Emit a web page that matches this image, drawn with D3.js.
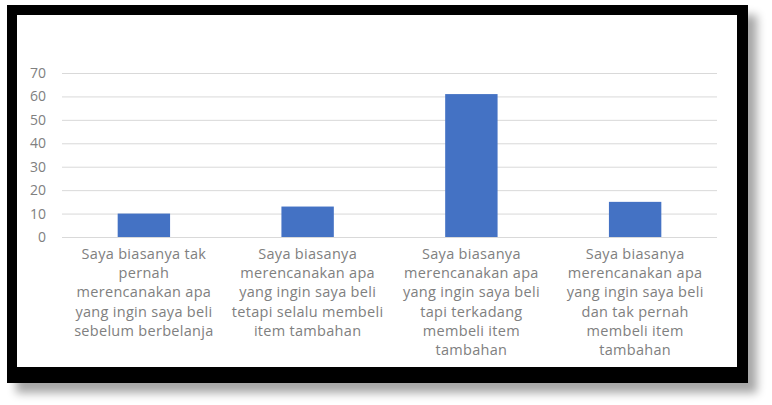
<!DOCTYPE html>
<html>
<head>
<meta charset="utf-8">
<script src="https://cdn.jsdelivr.net/npm/d3@7"></script>
<style>
  body { margin: 0; background: #fff; }
  svg { display: block; }
</style>
</head>
<body>
<div id="chart-area"></div>
<script>
// data
var categories = [
	"Saya biasanya tak|pernah|merencanakan apa|yang ingin saya beli|sebelum berbelanja",
	"Saya biasanya|merencanakan apa|yang ingin saya beli|tetapi selalu membeli|item tambahan",
	"Saya biasanya|merencanakan apa|yang ingin saya beli|tapi terkadang|membeli item|tambahan",
	"Saya biasanya|merencanakan apa|yang ingin saya beli|dan tak pernah|membeli item|tambahan"
];
var values = [10, 13, 61, 15];
var yTicks = [0, 10, 20, 30, 40, 50, 60, 70];

var width = 772, height = 405;

var svg = d3.select("#chart-area").append("svg")
	.attr("width", width)
	.attr("height", height);

var defs = svg.append("defs");
var f = defs.append("filter").attr("id", "shadow")
	.attr("x", "-5%").attr("y", "-5%").attr("width", "115%").attr("height", "125%");
f.append("feGaussianBlur").attr("in", "SourceAlpha").attr("stdDeviation", 5);
f.append("feOffset").attr("dx", 9).attr("dy", 10).attr("result", "b");
f.append("feComponentTransfer").append("feFuncA").attr("type", "linear").attr("slope", 0.35);
var m = f.append("feMerge");
m.append("feMergeNode");
m.append("feMergeNode").attr("in", "SourceGraphic");

// black frame round the chart
svg.append("rect")
	.attr("x", 7).attr("y", 5)
	.attr("width", 741).attr("height", 378)
	.attr("fill", "#000")
	.attr("filter", "url(#shadow)");

svg.append("rect")
	.attr("x", 17).attr("y", 15)
	.attr("width", 720).attr("height", 352)
	.attr("fill", "#fff");

var left = 62, right = 717;
var x = d3.scaleBand()
	.domain(d3.range(categories.length))
	.range([left, right])
	.paddingInner(0.68)
	.paddingOuter(0.34);

var y = d3.scaleLinear()
	.domain([0, 70])
	.range([237, 73]);

// gridlines
svg.append("g")
	.attr("transform", "translate(" + left + ",0)")
	.call(d3.axisLeft(y).tickValues(yTicks).tickSize(-(right - left)).tickFormat(""))
	.call(function(g){
		g.select(".domain").remove();
		g.selectAll("line").attr("stroke", "#d9d9d9").attr("stroke-width", 1);
	});

// y labels
svg.append("g")
	.attr("transform", "translate(46,0)")
	.call(d3.axisLeft(y).tickValues(yTicks).tickSize(0).tickPadding(0))
	.call(function(g){
		g.select(".domain").remove();
		g.selectAll("text")
			.attr("fill", "#808080")
			.style("font-family", "'Open Sans', sans-serif")
			.style("font-size", "14px");
	});

// bars
svg.selectAll("rect.bar")
	.data(values)
	.enter()
	.append("rect")
		.attr("class", "bar")
		.attr("x", function(d, i){ return x(i); })
		.attr("y", function(d){ return y(d); })
		.attr("width", x.bandwidth())
		.attr("height", function(d){ return y(0) - y(d); })
		.style("fill", "#4472c4");

// category labels
var labels = svg.selectAll("text.cat")
	.data(categories)
	.enter()
	.append("text")
		.attr("class", "cat")
		.attr("text-anchor", "middle")
		.attr("fill", "#808080")
		.style("font-family", "'Open Sans', sans-serif")
		.style("font-size", "14.5px")
		.style("letter-spacing", "0.3px");

labels.selectAll("tspan")
	.data(function(d, i){
		return d.split("|").map(function(s){ return {s: s, i: i}; });
	})
	.enter()
	.append("tspan")
		.attr("x", function(d){ return x(d.i) + x.bandwidth() / 2; })
		.attr("y", function(d, j){ return 259 + j * 19.2; })
		.text(function(d){ return d.s; });
</script>
</body>
</html>
